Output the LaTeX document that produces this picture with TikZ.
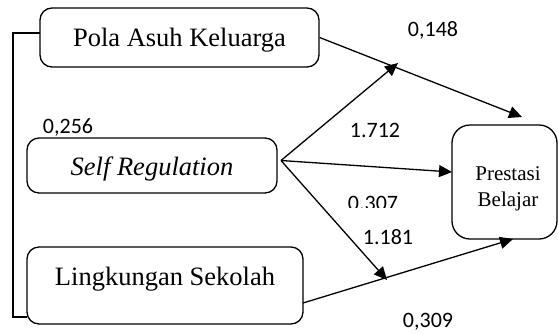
\documentclass[tikz,border=0pt]{standalone}
\usepackage{fontspec}
\setmainfont{Liberation Serif}
\newfontfamily\numfont{Carlito}
\usetikzlibrary{arrows.meta,calc}
\begin{document}
\begin{tikzpicture}[x=1pt,y=-1pt,
  box/.style={draw,line width=1.3pt,rounded corners=12pt,inner sep=0pt,font=\fontsize{26.5}{30}\selectfont},
  conn/.style={line width=1.3pt},
  arr/.style={conn,-{Triangle[length=13pt,width=12pt]}},
  num/.style={font=\numfont\fontsize{22}{26}\selectfont,inner sep=0pt}]
\useasboundingbox (0,0) rectangle (558,333);
% boxes
\node[box,minimum width=279pt,minimum height=59pt,text height=23pt,text depth=5.7pt] (pak) at (179.5,37.5) {Pola Asuh Keluarga};
\node[box,minimum width=250pt,minimum height=55pt,text height=24.7pt,text depth=5.7pt] (sr) at (152,165.5) {\itshape Self Regulation};
\node[box,minimum width=276pt,minimum height=77pt,text height=17.7pt,text depth=18.7pt] (ls) at (165,285.5) {Lingkungan Sekolah};
\node[box,rounded corners=18pt,minimum width=105pt,minimum height=114pt] (pb) at (504.5,182) {};
\node[font=\fontsize{21}{26}\selectfont,align=center,inner sep=0pt] (pbt) at (508,189) {Prestasi\\Belajar};
% coordinates
\coordinate (b1) at (40,33);
\coordinate (b2) at (13,33);
\coordinate (b3) at (13,317);
\coordinate (b4) at (27,317);
\coordinate (pakend) at (522,117);
\coordinate (sro) at (281,160.5);
\coordinate (m1) at (398,63);
\coordinate (p2) at (452,172);
\coordinate (m2) at (387,280);
\coordinate (ls1) at (303,303);
\coordinate (pbbot) at (513,239);
% bracket
\draw[conn] (b1) -- (b2) -- (b3) -- (b4);
% arrows
\draw[arr] (pak.east) -- (pakend);
\draw[arr] (sro) -- (m1);
\draw[arr] (sro) -- (p2);
\draw[arr] (sro) -- (m2);
\draw[arr] (ls1) -- (pbbot);
% labels
\node[num] (l148) at (433,30) {0,148};
\node[num] (l1712) at (375,130) {1.712};
\node[num] (l256) at (68,127) {0,256};
\begin{scope}
\clip (340,185) rectangle (410,207.5);
\node[num] (l307) at (373,203) {0.307};
\end{scope}
\node[num] (l1181) at (388,237) {1.181};
\node[num] (l309) at (428,322) {0,309};
\end{tikzpicture}
\end{document}
